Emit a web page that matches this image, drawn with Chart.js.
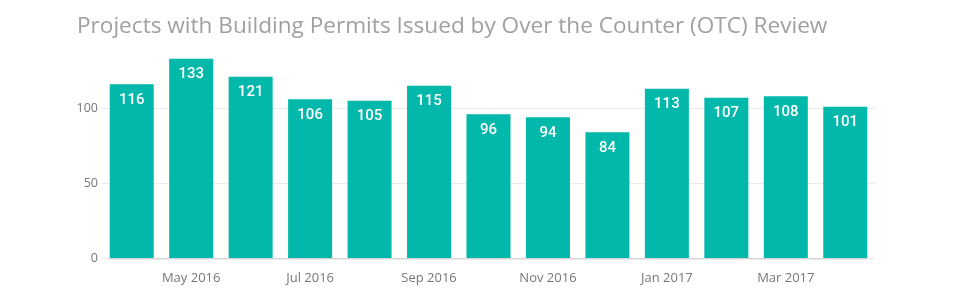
<!DOCTYPE html>
<html>
<head>
<meta charset="utf-8">
<script src="https://cdn.jsdelivr.net/npm/chart.js@4"></script>
<style>
  html, body { margin: 0; padding: 0; background: #fff; }
  #wrap { width: 960px; height: 300px; }
</style>
</head>
<body>
<div id="wrap"><canvas id="myChart"></canvas></div>
<script>
// months Apr 2016 - Apr 2017
const months = ['Apr 2016', 'May 2016', 'Jun 2016', 'Jul 2016', 'Aug 2016', 'Sep 2016', 'Oct 2016',
                'Nov 2016', 'Dec 2016', 'Jan 2017', 'Feb 2017', 'Mar 2017', 'Apr 2017'];
const permits = [116, 133, 121, 106, 105, 115, 96, 94, 84, 113, 107, 108, 101];
const yTicks = [0, 50, 100];

const teal = '#01B8AA';

// white value labels inside the top of each bar
const barLabels = {
    id: 'barLabels',
    afterDatasetsDraw(chart) {
        const ctx = chart.ctx;
        const meta = chart.getDatasetMeta(0);
        ctx.save();
        ctx.fillStyle = '#fff';
        ctx.font = '500 15px Roboto';
        ctx.textAlign = 'center';
        ctx.textBaseline = 'middle';
        meta.data.forEach((bar, i) => {
            ctx.fillText(permits[i], bar.x, bar.y + 16);
        });
        ctx.restore();
    }
};

// baseline only under the bars
const baseLine = {
    id: 'baseLine',
    afterDatasetsDraw(chart) {
        const meta = chart.getDatasetMeta(0);
        const first = meta.data[0], last = meta.data[meta.data.length - 1];
        const y = chart.scales.y.getPixelForValue(0);
        const ctx = chart.ctx;
        ctx.save();
        ctx.strokeStyle = '#c8c8c8';
        ctx.lineWidth = 1;
        ctx.beginPath();
        ctx.moveTo(first.x - first.width / 2, y + 0.5);
        ctx.lineTo(last.x + last.width / 2, y + 0.5);
        ctx.stroke();
        ctx.restore();
    }
};

const ctx = document.getElementById('myChart').getContext('2d');
new Chart(ctx, {
    type: 'bar',
    data: {
        labels: months,
        datasets: [{
            label: 'Projects',
            data: permits,
            backgroundColor: teal,
            barPercentage: 0.74,
            categoryPercentage: 1
        }]
    },
    options: {
        responsive: true,
        maintainAspectRatio: false,
        animation: false,
        layout: { padding: { left: 77, right: 85, top: 5, bottom: 2 } },
        plugins: {
            legend: { display: false },
            tooltip: { enabled: false },
            title: {
                display: true,
                text: 'Projects with Building Permits Issued by Over the Counter (OTC) Review',
                align: 'start',
                color: '#a0a0a0',
                font: { family: 'Open Sans', size: 22.6, weight: 'normal' },
                padding: { top: 8, bottom: 8 }
            }
        },
        scales: {
            x: {
                grid: { display: false, drawTicks: false },
                border: { display: false },
                ticks: {
                    autoSkip: false,
                    maxRotation: 0,
                    color: '#777',
                    padding: 12,
                    font: { family: 'Open Sans', size: 13 },
                    callback: (v, i) => (i % 2 === 1 ? months[i] : '')
                }
            },
            y: {
                min: 0,
                max: 140,
                afterBuildTicks: (scale) => {
                    scale.ticks = yTicks.map(v => ({ value: v }));
                },
                afterFit: (scale) => { scale.width = 25; },
                grid: { color: '#ebebeb', drawTicks: false },
                border: { display: false },
                ticks: {
                    color: '#777',
                    padding: 4,
                    font: { family: 'Open Sans', size: 12.5 }
                }
            }
        }
    },
    plugins: [barLabels, baseLine]
});
</script>
</body>
</html>
